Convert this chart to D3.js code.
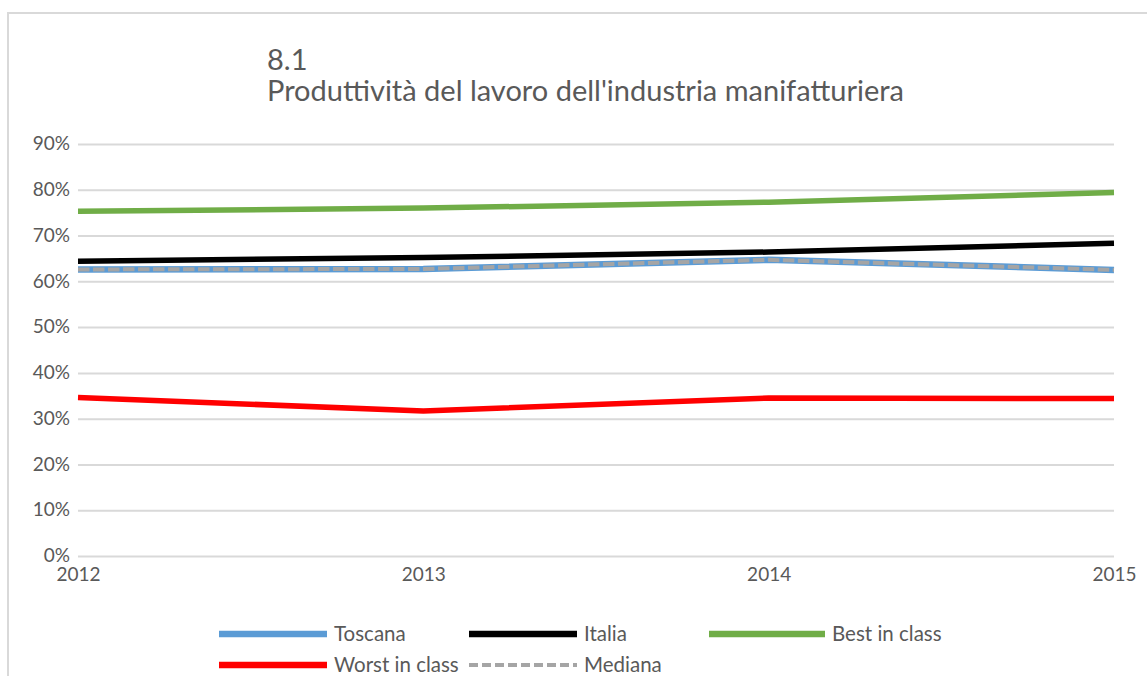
<!DOCTYPE html>
<html>
<head>
<meta charset="utf-8">
<script src="https://cdn.jsdelivr.net/npm/d3@7"></script>
<style>
  html, body { margin: 0; padding: 0; background: #ffffff; }
  svg { display: block; font-family: Lato, "Noto Sans", sans-serif; }
</style>
</head>
<body>
<svg id="chart" width="1147" height="676"></svg>
<script>
// Years on the category axis
const years = ["2012", "2013", "2014", "2015"];

// Labour productivity of manufacturing industry (%)
const toscana = [62.6, 62.7, 64.7, 62.5];
const italia = [64.4, 65.2, 66.4, 68.3];
const bestInClass = [75.3, 76.0, 77.3, 79.4];
const worstInClass = [34.6, 31.7, 34.5, 34.4];
const mediana = [62.6, 62.7, 64.7, 62.5];

// Y-axis ticks (%)
const yTicks = [0, 10, 20, 30, 40, 50, 60, 70, 80, 90];

const titleLines = ["8.1", "Produttività del lavoro dell'industria manifatturiera"];

const series = [
  { name: "Toscana", values: toscana, color: "#5b9bd5", width: 6.5, dash: null },
  { name: "Italia", values: italia, color: "#000000", width: 5.5, dash: null },
  { name: "Best in class", values: bestInClass, color: "#70ad47", width: 5.5, dash: null },
  { name: "Worst in class", values: worstInClass, color: "#ff0000", width: 5.5, dash: null },
  { name: "Mediana", values: mediana, color: "#a5a5a5", width: 4, dash: "11.5,3.5" }
];

const svg = d3.select("#chart");

// Chart frame (continues past the right and bottom edges)
svg.append("rect")
  .attr("x", 8).attr("y", 13)
  .attr("width", 1200).attr("height", 700)
  .attr("fill", "#ffffff")
  .attr("stroke", "#d9d9d9").attr("stroke-width", 2);

const plot = { left: 78, right: 1114, top: 144, bottom: 556 };

const x = d3.scalePoint().domain(years).range([plot.left, plot.right]);
const y = d3.scaleLinear().domain([0, 90]).range([plot.bottom, plot.top]);

// Title
const title = svg.append("text")
  .attr("x", 267).attr("y", 70)
  .attr("fill", "#595959")
  .style("font-size", "29px");
title.selectAll("tspan").data(titleLines).join("tspan")
  .attr("x", 267)
  .attr("dy", (d, i) => i === 0 ? 0 : 30.5)
  .text(d => d);

// Horizontal gridlines + y labels
const yAxis = d3.axisLeft(y)
  .tickValues(yTicks)
  .tickSize(-(plot.right - plot.left))
  .tickPadding(8)
  .tickFormat(d => d + "%");

const gy = svg.append("g")
  .attr("transform", `translate(${plot.left},0)`)
  .call(yAxis);
gy.select(".domain").remove();
gy.selectAll(".tick line").attr("stroke", "#d9d9d9").attr("stroke-width", 2);
gy.selectAll(".tick text")
  .attr("fill", "#595959")
  .style("font-size", "19px")
  .style("font-family", "Lato, 'Noto Sans', sans-serif")
  .attr("dy", "0.3em");

// X labels
const xAxis = d3.axisBottom(x).tickSize(0).tickPadding(12);
const gx = svg.append("g")
  .attr("transform", `translate(0,${plot.bottom})`)
  .call(xAxis);
gx.select(".domain").remove();
gx.selectAll(".tick text")
  .attr("fill", "#595959")
  .style("font-size", "19px")
  .style("font-family", "Lato, 'Noto Sans', sans-serif");

// Series lines
const line = d3.line()
  .x((d, i) => x(years[i]))
  .y(d => y(d));

svg.append("g").selectAll("path")
  .data(series)
  .join("path")
  .attr("d", d => line(d.values))
  .attr("fill", "none")
  .attr("stroke", d => d.color)
  .attr("stroke-width", d => d.width)
  .attr("stroke-dasharray", d => d.dash)
  .attr("stroke-linejoin", "round");

// Legend
const legendCols = [219, 469, 709];
const legendRows = [634, 665];
const legendItems = series.map((s, i) => ({
  s,
  x: legendCols[i % 3],
  y: legendRows[Math.floor(i / 3)]
}));

const lg = svg.append("g").selectAll("g")
  .data(legendItems)
  .join("g")
  .attr("transform", d => `translate(${d.x},${d.y})`);

lg.append("line")
  .attr("x1", 0).attr("x2", d => d.s.name === "Best in class" ? 116 : 108)
  .attr("y1", 0).attr("y2", 0)
  .attr("stroke", d => d.s.color)
  .attr("stroke-width", d => d.s.dash ? 4 : 6.5)
  .attr("stroke-dasharray", d => d.s.dash ? "9,4" : null);

lg.append("text")
  .attr("x", d => d.s.name === "Best in class" ? 123 : 115)
  .attr("y", 0)
  .attr("dy", "0.35em")
  .attr("fill", "#595959")
  .style("font-size", "20.5px")
  .text(d => d.s.name);
</script>
</body>
</html>
